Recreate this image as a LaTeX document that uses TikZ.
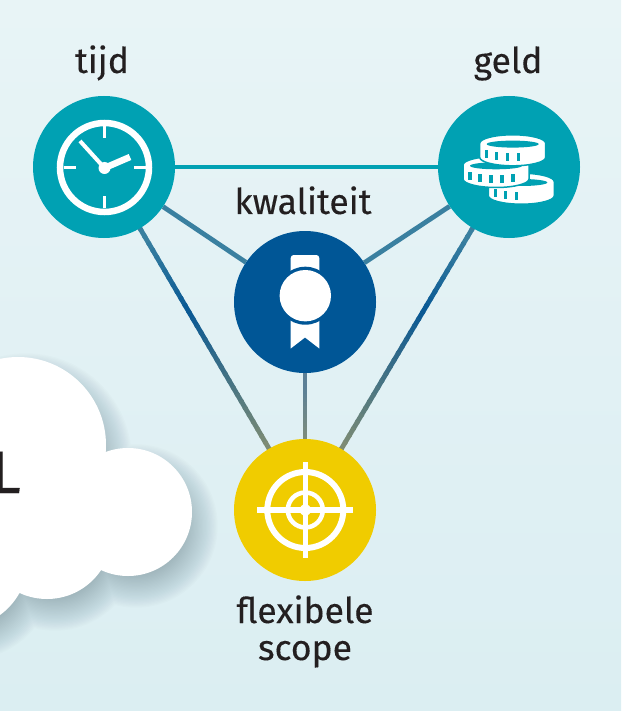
\documentclass[tikz,border=0pt]{standalone}
\usepackage{fontspec}
\setmainfont{Fira Sans}[FakeBold=0.25]
\usetikzlibrary{positioning,calc,backgrounds}
\definecolor{myteal}{RGB}{0,161,179}
\definecolor{myblue}{RGB}{0,86,150}
\definecolor{myyellow}{RGB}{240,204,0}
\definecolor{myink}{RGB}{35,31,32}
\definecolor{mylink}{RGB}{58,128,160}
\definecolor{mydeep}{RGB}{8,88,148}
\definecolor{myslate}{RGB}{92,128,150}
\definecolor{myolive}{RGB}{140,146,112}
\definecolor{myshadow}{RGB}{70,100,112}
\definecolor{mytop}{RGB}{232,244,246}
\definecolor{mybottom}{RGB}{219,238,242}
\tikzset{
    badge/.style = {circle, minimum size=142pt, inner sep=0pt},
    word/.style  = {font=\fontsize{35.5}{38}\selectfont, text=myink, anchor=base, align=center},
    link/.style  = {line width=4.8pt},
    icon/.style  = {draw=white, fill=none},
}
% one connector, split in short pieces: first colour -> second colour -> third colour
\newcommand{\fadelink}[7]{%
    \foreach \t in {0,...,49}{
        \pgfmathsetmacro{\ta}{\t/50}
        \pgfmathsetmacro{\tb}{(\t+1.3)/50}
        \pgfmathsetmacro{\mixa}{min(100,max(0,100*(\ta-#6)/(0.41-#6)))}
        \pgfmathsetmacro{\mixb}{min(100,max(0,100*(\ta-0.41)/(#7-0.41)))}
        \colorlet{segcol}{#5!\mixb!#4}
        \ifdim\ta pt<0.41pt \colorlet{segcol}{#4!\mixa!#3}\fi
        \draw[link, draw=segcol] ($(#1)!\ta!(#2)$) -- ($(#1)!\tb!(#2)$);
    }%
}
% one coin at (x,y), with its notches
\newcommand{\coin}[3]{%
    \begin{scope}[shift={(#1,#2)}]
        \filldraw[fill=white, draw=myteal, line width=1.5pt] (-33,0) arc[x radius=33, y radius=8.5, start angle=180, end angle=360]
            -- (33,14) arc[x radius=33, y radius=8.5, start angle=0, end angle=180] -- cycle;
        \fill[myteal] (0,0.8) ellipse[x radius=26, y radius=3.5];
        \foreach \k in {#3}{
            \pgfmathsetmacro{\ky}{8*sqrt(1-(\k/33)*(\k/33))+2}
            \fill[myteal] (\k-1.6,\ky) rectangle ++(3.3,8);
        }
    \end{scope}%
}
\begin{document}
\begin{tikzpicture}[x=1pt, y=-1pt, on grid]
    \useasboundingbox (0,0) rectangle (621,711);

    % Nodes
    \node[badge, fill=myteal] (tijd) at (104,167) {};
    \node[badge, fill=myteal, right=405pt of tijd] (geld) {};
    \node[badge, fill=myblue] (kwaliteit) at (305,302) {};
    \node[badge, fill=myyellow, below=208pt of kwaliteit] (scope) {};

    \node[word] (tijdtext) at (102,73) {tijd};
    \node[word] (geldtext) at (508,73) {geld};
    \node[word] (kwaliteittext) at (303,214) {kwaliteit};
    \node[word] (scopetext) at (305,623) {flexibele};
    \node[word] (scopetextb) at (305,660) {scope};

    \begin{scope}[on background layer]
        \shade[top color=mytop, bottom color=mybottom] (0,0) rectangle (621,711);

        % Cloud
        \foreach \g in {0,...,29}{
            \fill[myshadow, opacity=0.014, shift={(8,14)}]
                (18,445) circle[radius=68+1.3*\g] (128,512) circle[radius=44+1.3*\g]
                (47,534) circle[radius=45+1.3*\g] (-40,560) circle[radius=48+1.3*\g];
        }
        \fill[white] (18,445) circle[radius=88] (128,512) circle[radius=64]
            (47,534) circle[radius=65] (-40,560) circle[radius=68];

        % Arrows
        \draw[link, draw=myteal] (tijd) -- (geld);
        \draw[link, draw=mylink] (tijd) -- (kwaliteit);
        \draw[link, draw=mylink] (geld) -- (kwaliteit);
        \fadelink{tijd.center}{scope.center}{mylink}{mydeep}{myolive}{0.2}{0.85}
        \fadelink{geld.center}{scope.center}{mylink}{mydeep}{myolive}{0.2}{0.85}
        \fadelink{kwaliteit.center}{scope.center}{myslate}{myslate}{myolive}{0}{0.75}
    \end{scope}

    \node[anchor=base east, font=\fontsize{60}{60}\selectfont, text=myink, inner sep=0pt] (cloudtext) at (21,493) {L};

    % Clock
    \begin{scope}[shift={(tijd)}]
        \draw[icon, line width=6.5pt] (0.5,0.5) circle[radius=44.5];
        \foreach \a in {0,90,180,270}
            \draw[icon, line width=3.5pt] ($(0.5,0.5)+(\a:41)$) -- ($(0.5,0.5)+(\a:29)$);
        \draw[icon, line width=4pt] (0.5,1) -- (-24,-26);
        \draw[icon, line width=6.5pt] (0.5,1) -- (26,-10);
        \fill[white] (0.5,1) circle[radius=6];
    \end{scope}

    % Coins
    \begin{scope}[shift={(geld)}]
        \coin{12.3}{14.7}{-26,-16,-5}
        \coin{-13}{-2}{-26,-16,-5,6,17}
        \coin{3.7}{-23.7}{-26,-16,-5,6}
    \end{scope}

    % Medal
    \begin{scope}[shift={(kwaliteit)}]
        \fill[white, rounded corners=3pt] (-14.3,-47) rectangle (14.3,-20);
        \fill[white] (-14.3,10) -- (14.3,10) -- (14.3,46.5) -- (0,35.5) -- (-14.3,46.5) -- cycle;
        \fill[myblue] (0.3,-6.3) circle[radius=29];
        \fill[white] (0.3,-6.3) circle[radius=25.7];
    \end{scope}

    % Target
    \begin{scope}[shift={(scope)}]
        \draw[icon, line width=6pt] (0.3,0) circle[radius=38];
        \draw[icon, line width=4.5pt] (0.3,0) circle[radius=17.5];
        \draw[icon, line width=5.3pt] (-47.7,0) -- (48.3,0);
        \draw[icon, line width=5.3pt] (0.3,-48) -- (0.3,48);
        \fill[white] (0.3,0) circle[radius=5.7];
    \end{scope}
\end{tikzpicture}
\end{document}
